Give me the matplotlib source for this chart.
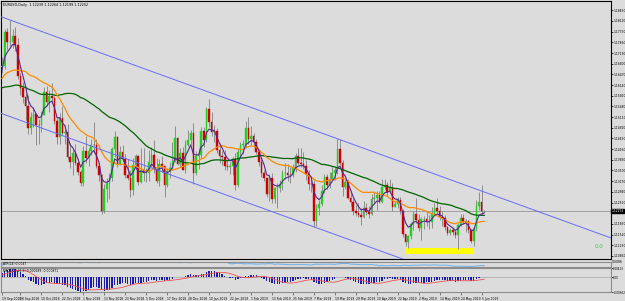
import numpy as np
import pandas as pd
import matplotlib
matplotlib.use('Agg')
import matplotlib.pyplot as plt
import matplotlib.transforms as mtransforms

# EURUSD daily closes Jul-Sep 2018, before the first visible bar (warm-up for the averages)
pre_close = [1.1745, 1.1743, 1.1675, 1.1670, 1.1686, 1.1710, 1.1660, 1.1642, 1.1642, 1.1720,
             1.1690, 1.1683, 1.1728, 1.1643, 1.1657, 1.1705, 1.1691,
             1.1658, 1.1601, 1.1567, 1.1552, 1.1598, 1.1610, 1.1527, 1.1410, 1.1407, 1.1341,
             1.1345, 1.1377, 1.1439, 1.1477, 1.1570, 1.1590, 1.1537, 1.1623, 1.1680, 1.1697,
             1.1705, 1.1670, 1.1600,
             1.1622, 1.1582, 1.1628, 1.1624, 1.1551, 1.1594, 1.1601, 1.1625, 1.1692, 1.1624,
             1.1685, 1.1669]

first_open = 1.1669

# visible bars 19 Sep 2018 .. 6 Jun 2019
close = [1.1672, 1.1778, 1.1746, 1.1748, 1.1765, 1.1738, 1.1641, 1.1604,
         1.1578, 1.1548, 1.1480, 1.1515, 1.1525, 1.1491, 1.1490, 1.1522, 1.1594, 1.1561, 1.1581, 1.1575,
         1.1502, 1.1452, 1.1513, 1.1466, 1.1470, 1.1392, 1.1375, 1.1403, 1.1374, 1.1346, 1.1310,
         1.1409, 1.1388, 1.1409, 1.1430, 1.1428, 1.1365, 1.1335, 1.1225, 1.1293, 1.1312, 1.1327,
         1.1417, 1.1455, 1.1369, 1.1406, 1.1385, 1.1337, 1.1327, 1.1289, 1.1366, 1.1394, 1.1315,
         1.1352, 1.1341, 1.1341, 1.1375, 1.1399, 1.1354, 1.1317, 1.1369, 1.1363, 1.1306, 1.1347,
         1.1359, 1.1379, 1.1449, 1.1370, 1.1404, 1.1352, 1.1430, 1.1443, 1.1467,
         1.1343, 1.1394, 1.1398, 1.1473, 1.1443, 1.1540, 1.1500, 1.1468, 1.1472, 1.1412, 1.1395,
         1.1391, 1.1364, 1.1362, 1.1364, 1.1385, 1.1306, 1.1408, 1.1429, 1.1432, 1.1480, 1.1446,
         1.1456, 1.1437, 1.1407, 1.1376, 1.1341, 1.1326, 1.1276, 1.1326, 1.1262, 1.1295, 1.1295,
         1.1309, 1.1342, 1.1342, 1.1337, 1.1336, 1.1357, 1.1395, 1.1372, 1.1370,
         1.1364, 1.1339, 1.1309, 1.1307, 1.1193, 1.1233, 1.1246, 1.1287, 1.1329, 1.1306, 1.1325,
         1.1341, 1.1352, 1.1417, 1.1374, 1.1300, 1.1313, 1.1265, 1.1253, 1.1224, 1.1218,
         1.1213, 1.1207, 1.1234, 1.1223, 1.1216, 1.1263, 1.1264, 1.1274, 1.1254, 1.1298, 1.1305,
         1.1285, 1.1295, 1.1237, 1.1245, 1.1259, 1.1225, 1.1153, 1.1130, 1.1149, 1.1184, 1.1215,
         1.1196, 1.1171, 1.1200, 1.1200, 1.1190, 1.1190, 1.1215, 1.1234, 1.1224, 1.1207, 1.1203,
         1.1174, 1.1158, 1.1167, 1.1160, 1.1150, 1.1182, 1.1204, 1.1191, 1.1193, 1.1165, 1.1132,
         1.1169,
         1.1240, 1.1253, 1.12239, 1.12252]

high = [1.1700, 1.1787, 1.1791, 1.1815, 1.1788, 1.1793, 1.1760, 1.1652,
        1.1623, 1.1588, 1.1583, 1.1531, 1.1547, 1.1529, 1.1508, 1.1534, 1.1609, 1.1610, 1.1600, 1.1621,
        1.1580, 1.1515, 1.1527, 1.1548, 1.1492, 1.1494, 1.1435, 1.1412, 1.1431, 1.1386, 1.1352,
        1.1425, 1.1456, 1.1418, 1.1448, 1.1500, 1.1448, 1.1372, 1.1338, 1.1307, 1.1327, 1.1342,
        1.1423, 1.1472, 1.1458, 1.1427, 1.1429, 1.1400, 1.1386, 1.1353, 1.1388, 1.1402, 1.1398,
        1.1420, 1.1419, 1.1357, 1.1413, 1.1424, 1.1445, 1.1390, 1.1385, 1.1394, 1.1367, 1.1357,
        1.1377, 1.1438, 1.1486, 1.1455, 1.1420, 1.1424, 1.1445, 1.1475, 1.1476,
        1.1498, 1.1411, 1.1419, 1.1484, 1.1485, 1.1546, 1.1570, 1.1531, 1.1490, 1.1480, 1.1434,
        1.1411, 1.1413, 1.1382, 1.1376, 1.1393, 1.1405, 1.1418, 1.1437, 1.1445, 1.1502, 1.1514,
        1.1489, 1.1465, 1.1447, 1.1414, 1.1387, 1.1353, 1.1331, 1.1338, 1.1343, 1.1300, 1.1310,
        1.1320, 1.1353, 1.1372, 1.1371, 1.1361, 1.1369, 1.1404, 1.1419, 1.1419,
        1.1408, 1.1382, 1.1353, 1.1324, 1.1321, 1.1247, 1.1258, 1.1305, 1.1339, 1.1338, 1.1345,
        1.1362, 1.1362, 1.1448, 1.1448, 1.1383, 1.1325, 1.1325, 1.1287, 1.1263, 1.1243,
        1.1250, 1.1233, 1.1255, 1.1248, 1.1241, 1.1277, 1.1288, 1.1288, 1.1288, 1.1324, 1.1323,
        1.1314, 1.1324, 1.1310, 1.1256, 1.1269, 1.1267, 1.1230, 1.1155, 1.1152, 1.1190, 1.1224,
        1.1265, 1.1215, 1.1206, 1.1209, 1.1225, 1.1212, 1.1236, 1.1250, 1.1264, 1.1240, 1.1225,
        1.1214, 1.1177, 1.1172, 1.1174, 1.1168, 1.1187, 1.1216, 1.1215, 1.1199, 1.1197, 1.1169,
        1.1174,
        1.1260, 1.1285, 1.1306, 1.12264]

low = [1.1650, 1.1665, 1.1722, 1.1734, 1.1730, 1.1720, 1.1632, 1.1582,
       1.1560, 1.1505, 1.1464, 1.1463, 1.1484, 1.1430, 1.1432, 1.1468, 1.1520, 1.1548, 1.1530, 1.1562,
       1.1495, 1.1432, 1.1433, 1.1459, 1.1431, 1.1385, 1.1357, 1.1336, 1.1366, 1.1336, 1.1301,
       1.1301, 1.1374, 1.1364, 1.1398, 1.1403, 1.1357, 1.1318, 1.1216, 1.1218, 1.1253, 1.1263,
       1.1318, 1.1393, 1.1360, 1.1368, 1.1378, 1.1327, 1.1322, 1.1267, 1.1273, 1.1361, 1.1305,
       1.1310, 1.1318, 1.1315, 1.1316, 1.1360, 1.1341, 1.1311, 1.1302, 1.1345, 1.1269, 1.1300,
       1.1327, 1.1355, 1.1375, 1.1368, 1.1365, 1.1350, 1.1342, 1.1426, 1.1432,
       1.1309, 1.1335, 1.1355, 1.1390, 1.1423, 1.1439, 1.1485, 1.1457, 1.1437, 1.1405, 1.1372,
       1.1367, 1.1353, 1.1352, 1.1340, 1.1335, 1.1290, 1.1300, 1.1391, 1.1401, 1.1419, 1.1433,
       1.1430, 1.1422, 1.1400, 1.1364, 1.1329, 1.1316, 1.1268, 1.1257, 1.1250, 1.1249, 1.1234,
       1.1282, 1.1291, 1.1325, 1.1319, 1.1312, 1.1331, 1.1346, 1.1366, 1.1362,
       1.1355, 1.1320, 1.1291, 1.1285, 1.1176, 1.1177, 1.1213, 1.1241, 1.1281, 1.1294, 1.1297,
       1.1320, 1.1320, 1.1339, 1.1366, 1.1272, 1.1292, 1.1261, 1.1241, 1.1213, 1.1210,
       1.1206, 1.1183, 1.1203, 1.1211, 1.1202, 1.1212, 1.1245, 1.1229, 1.1251, 1.1251, 1.1293,
       1.1270, 1.1279, 1.1226, 1.1236, 1.1233, 1.1217, 1.1144, 1.1118, 1.1112, 1.1139, 1.1165,
       1.1187, 1.1163, 1.1135, 1.1168, 1.1177, 1.1170, 1.1173, 1.1211, 1.1219, 1.1198, 1.1177,
       1.1166, 1.1152, 1.1151, 1.1150, 1.1140, 1.1107, 1.1180, 1.1184, 1.1159, 1.1156, 1.1126,
       1.1117,
       1.1162, 1.1229, 1.1213, 1.12199]

# trading days (broker has no bar on 25 Dec and 1 Jan)
dates = pd.bdate_range('2018-09-19', '2019-06-06')
dates = dates[~dates.isin(pd.to_datetime(['2018-12-25', '2019-01-01']))]

# equidistant channel: two highs for the upper line, one low for the parallel line
chan_a = (3, 1.1815)     # 24 Sep 2018 high
chan_b = (128, 1.1448)   # 20 Mar 2019 high
chan_c = (119, 1.1176)   # 7 Mar 2019 low

# yellow rectangle (bar from, bar to, price low, price high)
rect_bars = (154, 180)
rect_prices = (1.1092, 1.1110)

price_ticks = [1.18450, 1.18120, 1.17790, 1.17460, 1.17130, 1.16800, 1.16470, 1.16140,
               1.15810, 1.15480, 1.15150, 1.14820, 1.14490, 1.14160, 1.13830, 1.13500,
               1.13170, 1.12840, 1.12510, 1.11850, 1.11520, 1.11190, 1.10860]

title_text = 'EURUSD,Daily  1.12239 1.12264 1.12199 1.12252'

#%%
close = np.array(close)
high = np.array(high)
low = np.array(low)
opn = np.concatenate([[first_open], close[:-1]])
n = len(close)
idx = np.arange(n)

allc = pd.Series(pre_close + list(close))
k = len(pre_close)
sma20 = allc.rolling(20).mean().values[k:]
sma50 = allc.rolling(50).mean().values[k:]
ema5 = allc.ewm(span=5, adjust=False).mean().values[k:]
macd_all = allc.ewm(span=12, adjust=False).mean() - allc.ewm(span=26, adjust=False).mean()
macd = macd_all.values[k:]
signal = macd_all.rolling(9).mean().values[k:]
prev_c = np.concatenate([[pre_close[-1]], close[:-1]])
tr = np.maximum(high - low, np.maximum(abs(high - prev_c), abs(low - prev_c)))
atr = pd.Series(tr).rolling(14, min_periods=1).mean().values

#%%
bg = '#dcdcdc'
fs = 2.4     # MT4 tiny label font
fs_axis = 2.15
W, H = 625, 301
fig = plt.figure(figsize=(W / 100, H / 100), dpi=100, facecolor=bg)
ax = fig.add_axes([1 / W, 1 - 259 / H, 610 / W, 258 / H], facecolor=bg)
ax2 = fig.add_axes([1 / W, 1 - 266.5 / H, 610 / W, 5 / H], facecolor=bg)
ax3 = fig.add_axes([1 / W, 1 - 292 / H, 610 / W, 24 / H], facecolor=bg)

xl = (-0.4, 232.4)

# candles
ax.vlines(idx, low, high, color='#808080', lw=0.6, zorder=2)
up = close >= opn
ax.bar(idx[up], close[up] - opn[up], bottom=opn[up], width=0.62, color='#22d022',
       edgecolor='#22d022', linewidth=0.3, zorder=3)
ax.bar(idx[~up], close[~up] - opn[~up], bottom=opn[~up], width=0.62, color='#d00000',
       edgecolor='#d00000', linewidth=0.3, zorder=3)

# moving averages
ax.plot(idx, sma50, color='#006400', lw=0.9, zorder=4)
ax.plot(idx, sma20, color='#ff8c00', lw=0.9, zorder=4)
ax.plot(idx, ema5, color='#55278f', lw=0.8, zorder=5)

# channel lines
slope = (chan_b[1] - chan_a[1]) / (chan_b[0] - chan_a[0])
xs = np.array(xl)
ax.plot(xs, chan_a[1] + slope * (xs - chan_a[0]), color='#6a6aff', lw=0.7, zorder=6)
ax.plot(xs, chan_c[1] + slope * (xs - chan_c[0]), color='#6a6aff', lw=0.7, zorder=6)

# yellow zone
ax.fill_between(rect_bars, rect_prices[0], rect_prices[1], color='#ffff00', lw=0, zorder=1)

# bid line
ax.axhline(close[-1], color='#a0a0a0', lw=0.7, zorder=1)

ax.text(226.3, 1.1115, '0.0', color='#3fcf3f', fontsize=4.0, ha='left', va='center')
ax.text(0.004, 0.992, title_text, transform=ax.transAxes, fontsize=fs, va='top', ha='left')

ax.set_xlim(xl)
ax.set_ylim(1.10765, 1.18737)
ax.set_xticks([])
ax.yaxis.tick_right()
ax.set_yticks(price_ticks)
ax.set_yticklabels(['%.5f' % p for p in price_ticks])
ax.tick_params(axis='y', labelsize=fs_axis, length=1.2, width=0.5, pad=0.5)
for s in ax.spines.values():
    s.set_color('black')
    s.set_linewidth(0.8)

trans = mtransforms.blended_transform_factory(ax.transAxes, ax.transData)
ax.text(1.0012, close[-1], '%.5f' % close[-1], transform=trans, fontsize=fs_axis, color='white',
        va='center', ha='left', bbox=dict(boxstyle='square,pad=0.12', fc='black', ec='black'))

# ATR window
ax2.plot(idx, atr, color='#78b4e8', lw=0.8)
ax2.set_xlim(xl)
ax2.set_ylim(atr.min(), atr.max())
ax2.set_xticks([])
ax2.yaxis.tick_right()
ax2.set_yticks([atr.max()])
ax2.set_yticklabels(['%.4f' % atr.max()])
ax2.tick_params(axis='y', labelsize=fs_axis, length=0, pad=0.5)
ax2.text(0.004, 0.9, 'ATR(14) %.4f' % atr[-1], transform=ax2.transAxes, fontsize=fs_axis,
         va='top', ha='left')
for s in ax2.spines.values():
    s.set_color('#8c8c8c')
    s.set_linewidth(0.8)

# MACD window
ax3.bar(idx, macd, width=0.5, color='#1c1ca8', lw=0)
ax3.plot(idx, signal, color='#f05050', lw=0.6)
ax3.axhline(0, color='#a8a8a8', lw=0.5, zorder=0)
lo = min(np.nanmin(macd), np.nanmin(signal))
hi = max(np.nanmax(macd), np.nanmax(signal))
ax3.set_xlim(xl)
ax3.set_ylim(lo, hi)
ax3.yaxis.tick_right()
ax3.set_yticks([hi, 0, lo])
ax3.set_yticklabels(['%.5f' % hi, '0.00', '%.5f' % lo])
ax3.tick_params(axis='y', labelsize=fs_axis - 0.15, length=1.2, width=0.5, pad=0.5)
ax3.text(0.004, 0.97, 'MACD(12,26,9) %.6f %.6f' % (macd[-1], signal[-1]),
         transform=ax3.transAxes, fontsize=fs_axis, va='top', ha='left')
for s in ax3.spines.values():
    s.set_color('#8c8c8c')
    s.set_linewidth(0.8)

# date axis
date_pos = [0] + list(range(7, n, 8))
ax3.set_xticks(date_pos)
ax3.set_xticklabels(['%d %s' % (dates[i].day, dates[i].strftime('%b %Y')) for i in date_pos])
ax3.tick_params(axis='x', labelsize=fs_axis, length=2.5, width=0.5, pad=0.8, color='#505050')
for lbl in ax3.get_xticklabels():
    lbl.set_horizontalalignment('left')

fig.savefig('out.png', dpi=100, facecolor=bg)
